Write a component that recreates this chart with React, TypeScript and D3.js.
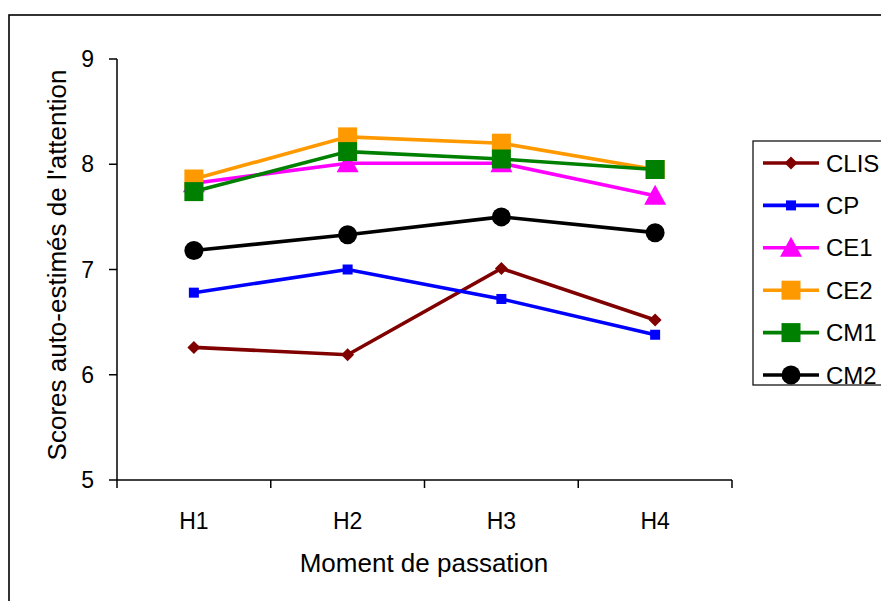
import React from "react";
import * as d3 from "d3";

const categories = ["H1", "H2", "H3", "H4"];
const yTicks = [5, 6, 7, 8, 9];
const seriesNames = ["CLIS", "CP", "CE1", "CE2", "CM1", "CM2"];
const clis = [6.26, 6.19, 7.01, 6.52];
const cp = [6.78, 7.0, 6.72, 6.38];
const ce1 = [7.82, 8.01, 8.01, 7.7];
const ce2 = [7.86, 8.26, 8.2, 7.95];
const cm1 = [7.74, 8.12, 8.05, 7.95];
const cm2 = [7.18, 7.33, 7.5, 7.35];
const colors = ["#800000", "#0000FF", "#FF00FF", "#FF9900", "#008000", "#000000"];
const markers = ["diamond", "smallSquare", "triangle", "square", "square", "circle"];

const seriesValues = [clis, cp, ce1, ce2, cm1, cm2];

const FONT = "'Liberation Sans', Arial, sans-serif";

function Marker({ type, x, y, color }: { type: string; x: number; y: number; color: string }) {
  if (type === "diamond") {
    const s = 6.5;
    return <path d={`M${x},${y - s}L${x + s},${y}L${x},${y + s}L${x - s},${y}Z`} fill={color} />;
  }
  if (type === "smallSquare") {
    const s = 5;
    return <rect x={x - s} y={y - s} width={2 * s} height={2 * s} fill={color} />;
  }
  if (type === "square") {
    const s = 9.5;
    return <rect x={x - s} y={y - s} width={2 * s} height={2 * s} fill={color} />;
  }
  if (type === "triangle") {
    const h = 20;
    const w = 22;
    return (
      <path
        d={`M${x},${y - h * 0.55}L${x + w / 2},${y + h * 0.45}L${x - w / 2},${y + h * 0.45}Z`}
        fill={color}
      />
    );
  }
  return <circle cx={x} cy={y} r={9.5} fill={color} />;
}

export default function App() {
  const W = 881;
  const H = 601;
  const left = 117;
  const right = 732;
  const top = 59;
  const bottom = 480;

  const x = d3.scaleBand<string>().domain(categories).range([left, right]).padding(0);
  const y = d3.scaleLinear().domain([5, 9]).range([bottom, top]);
  const cx = (c: string) => (x(c) as number) + x.bandwidth() / 2;

  const line = d3
    .line<number>()
    .x((_, i) => cx(categories[i]))
    .y((v) => y(v));

  const boundaries = [...categories.map((c) => x(c) as number), right];

  const legendX = 753;
  const legendY = 141;
  const legendRowY = (i: number) => 163 + i * 42.4;

  return (
    <svg
      width={W}
      height={H}
      style={{ position: "absolute", left: 0, top: 0, background: "#fff" }}
      fontFamily={FONT}
    >
      <rect x={0} y={0} width={W} height={H} fill="#fff" />
      <rect x={9} y={15} width={1000} height={800} fill="none" stroke="#000" strokeWidth={1.6} />

      {/* Y axis */}
      <line x1={left} y1={top} x2={left} y2={bottom} stroke="#000" strokeWidth={1.5} />
      {yTicks.map((t) => (
        <g key={t}>
          <line x1={left - 8} x2={left} y1={y(t)} y2={y(t)} stroke="#000" strokeWidth={1.5} />
          <text x={left - 23} y={y(t)} textAnchor="end" dominantBaseline="central" fontSize={23}>
            {t}
          </text>
        </g>
      ))}

      {/* X axis */}
      <line x1={left} y1={bottom} x2={right} y2={bottom} stroke="#000" strokeWidth={1.5} />
      {boundaries.map((b, i) => (
        <line key={i} x1={b} x2={b} y1={bottom} y2={bottom + 8} stroke="#000" strokeWidth={1.5} />
      ))}
      {categories.map((c) => (
        <text key={c} x={cx(c)} y={521} textAnchor="middle" dominantBaseline="central" fontSize={23}>
          {c}
        </text>
      ))}

      <text x={424} y={563} textAnchor="middle" dominantBaseline="central" fontSize={26}>
        Moment de passation
      </text>
      <text
        transform={`translate(57, 265) rotate(-90)`}
        textAnchor="middle"
        dominantBaseline="central"
        fontSize={26}
      >
        Scores auto-estimés de l'attention
      </text>

      {/* Series */}
      {seriesValues.map((vals, si) => (
        <g key={seriesNames[si]}>
          <path d={line(vals) || ""} fill="none" stroke={colors[si]} strokeWidth={3.6} />
          {vals.map((v, i) => (
            <Marker key={i} type={markers[si]} x={cx(categories[i])} y={y(v)} color={colors[si]} />
          ))}
        </g>
      ))}

      {/* Legend */}
      <rect x={legendX} y={legendY} width={200} height={244} fill="#fff" stroke="#000" strokeWidth={1.2} />
      {seriesNames.map((n, i) => (
        <g key={n}>
          <line x1={763} x2={819} y1={legendRowY(i)} y2={legendRowY(i)} stroke={colors[i]} strokeWidth={3.6} />
          <Marker type={markers[i]} x={791} y={legendRowY(i)} color={colors[i]} />
          <text x={826} y={legendRowY(i)} dominantBaseline="central" fontSize={24}>
            {n}
          </text>
        </g>
      ))}
    </svg>
  );
}
